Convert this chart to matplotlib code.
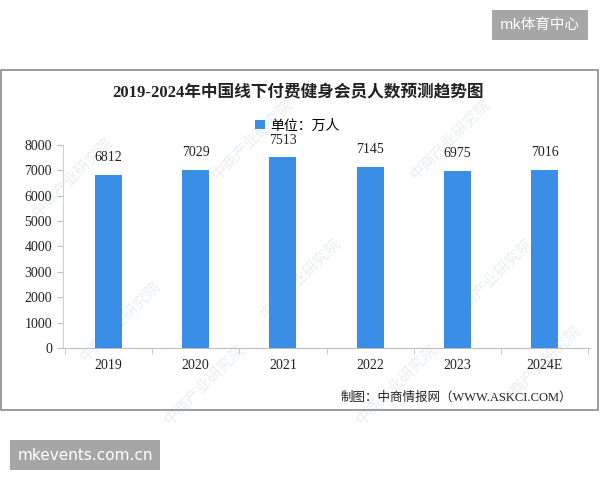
import matplotlib.pyplot as plt
from matplotlib.patches import Rectangle

plt.rcParams['font.family'] = ['Liberation Serif', 'Noto Sans CJK SC', 'DejaVu Sans']

years = ['2019', '2020', '2021', '2022', '2023', '2024E']
members = [6812, 7029, 7513, 7145, 6975, 7016]
yticks = [0, 1000, 2000, 3000, 4000, 5000, 6000, 7000, 8000]

title = '2019-2024年中国线下付费健身会员人数预测趋势图'
legend_label = '单位：万人'
source = '制图：中商情报网（WWW.ASKCI.COM）'

fig = plt.figure(figsize=(6, 4.8), dpi=100)
fig.patch.set_facecolor('white')

# outer frame of the picture
fig.patches.append(Rectangle((0.001, 1 - 410 / 480), 0.996, 340 / 480,
                             transform=fig.transFigure, fill=False,
                             edgecolor='#8c8c8c', linewidth=1.2))

# faint watermarks behind the chart
for wx, wy in [(0.12, 0.63), (0.42, 0.71), (0.75, 0.71), (0.20, 0.33),
               (0.50, 0.42), (0.82, 0.42), (0.34, 0.20), (0.66, 0.20),
               (0.90, 0.24)]:
    fig.text(wx, wy, '中商产业研究院', rotation=45, fontsize=11,
             color='#e9eef3', family=['Noto Sans CJK SC'],
             ha='center', va='center', zorder=-1)

ax = fig.add_axes([63 / 600, 1 - 348 / 480, 527 / 600, 203 / 480])
ax.set_facecolor('none')
x = list(range(len(years)))
ax.bar(x, members, width=0.31, color='#3a8ee6', label=legend_label, zorder=3)

for xi, v in zip(x, members):
    ax.text(xi, v + 420, str(v), ha='center', va='bottom', fontsize=10,
            color='#222222')

ax.set_xlim(-0.52, 5.52)
ax.set_ylim(0, 8000)
ax.set_yticks(yticks)
ax.set_yticklabels([str(t) for t in yticks], fontsize=10, color='#222222')
ax.set_xticks(x)
ax.set_xticklabels(years, fontsize=10, color='#222222')
ax.set_xticks([i + 0.5 for i in range(-1, len(years))], minor=True)
ax.tick_params(axis='x', which='major', length=0, pad=8)
ax.tick_params(axis='x', which='minor', length=4, color='#bfbfbf')
ax.tick_params(axis='y', length=4, color='#bfbfbf', pad=4)

for s in ['top', 'right']:
    ax.spines[s].set_visible(False)
ax.spines['left'].set_color('#d0d0d0')
ax.spines['bottom'].set_color('#bfbfbf')

ax.legend(loc='lower center', bbox_to_anchor=(0.445, 1.0), frameon=False,
          handlelength=0.7, handleheight=0.7, handletextpad=0.4,
          prop={'family': ['Noto Sans CJK SC'], 'size': 10})

fig.text(0.497, 1 - 92 / 480, title, ha='center', va='center', fontsize=12,
         fontweight='bold', color='#222222',
         family=['Liberation Serif', 'Noto Sans CJK SC'])
fig.text(572 / 600, 1 - 398 / 480, source, ha='right', va='center',
         fontsize=9, color='#222222',
         family=['Liberation Serif', 'Noto Sans CJK SC'])

# site tags outside the chart
fig.text(540 / 600, 1 - 25 / 480, 'mk体育中心', ha='center', va='center',
         fontsize=10.5, color='white', family=['Noto Sans CJK SC'],
         bbox=dict(boxstyle='square,pad=0.55', facecolor='#a6a6a6',
                   edgecolor='none'))
fig.text(85 / 600, 1 - 455 / 480, 'mkevents.com.cn', ha='center', va='center',
         fontsize=11, color='white', family=['DejaVu Sans'],
         bbox=dict(boxstyle='square,pad=0.5', facecolor='#a6a6a6',
                   edgecolor='none'))

fig.savefig('out.png', dpi=100)
